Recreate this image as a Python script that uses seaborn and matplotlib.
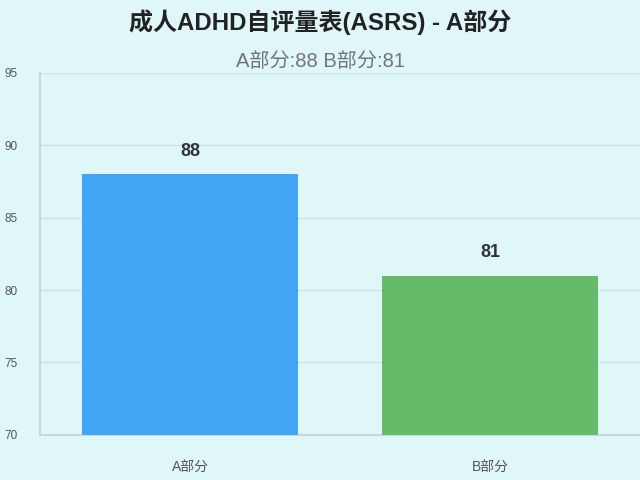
import pandas as pd
import matplotlib.pyplot as plt
import seaborn as sns

categories = ["A部分", "B部分"]
scores = [88, 81]
bar_colors = ["#42a5f5", "#66bb6a"]
title = "成人ADHD自评量表(ASRS) - A部分"
subtitle = "A部分:88 B部分:81"

bg = "#e0f7fa"
sns.set_theme(style="white")
plt.rcParams['font.family'] = ['Liberation Sans', 'Noto Sans CJK SC', 'DejaVu Sans']

df = pd.DataFrame({"part": categories, "score": scores})

fig = plt.figure(figsize=(6.4, 4.8), dpi=100, facecolor=bg)
ax = fig.add_axes([0.0625, 0.094, 0.9375, 0.754])
ax.set_facecolor(bg)

sns.barplot(data=df, x="part", y="score", hue="part", palette=bar_colors,
            width=0.72, legend=False, ax=ax, saturation=1, zorder=3,
            linewidth=0, edgecolor="none")

ax.set_ylim(70, 95)
ax.set_yticks([70, 75, 80, 85, 90, 95])
ax.grid(axis="y", color="#c9e4e8", linewidth=1, zorder=0)
ax.set_xlabel("")
ax.set_ylabel("")
ax.tick_params(axis="y", labelsize=8.5, colors="#555555", length=14, color="#c9e4e8", pad=2)
ax.tick_params(axis="x", labelsize=10, colors="#555555", length=0, pad=18)
for side in ["top", "right"]:
    ax.spines[side].set_visible(False)
for side in ["left", "bottom"]:
    ax.spines[side].set_color("#c0d3d6")
    ax.spines[side].set_linewidth(1.2)

for i, v in enumerate(scores):
    ax.text(i, v + 1.0, str(v), ha="center", va="bottom", fontsize=13,
            fontweight="bold", color="#333333")

fig.text(0.5, 0.953, title, ha="center", va="center", fontsize=17.3,
         fontweight="bold", color="#222222")
fig.text(0.5, 0.871, subtitle, ha="center", va="center", fontsize=14.5,
         color="#757575")

fig.savefig("out.png", dpi=100, facecolor=bg)
